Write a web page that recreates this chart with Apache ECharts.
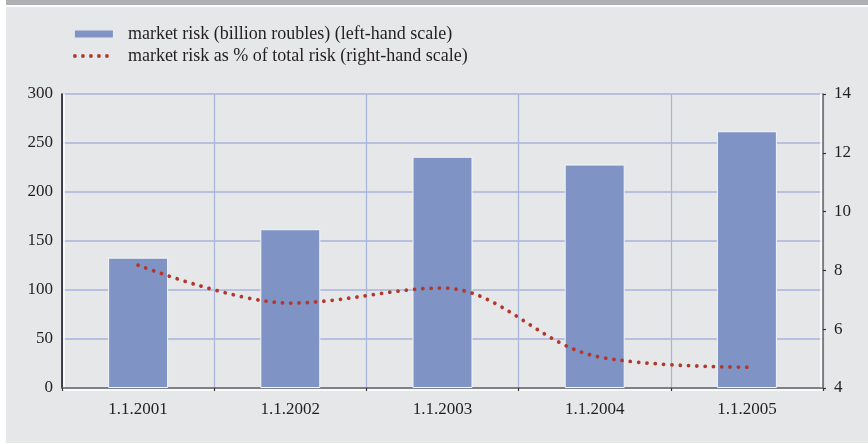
<!DOCTYPE html>
<html><head><meta charset="utf-8">
<script src="https://cdn.jsdelivr.net/npm/echarts@6/dist/echarts.min.js"></script>
<style>html,body{margin:0;padding:0;background:#fff}#c{width:868px;height:444px}</style>
</head><body><div id="c"></div>
<script>
const categories = ['1.1.2001','1.1.2002','1.1.2003','1.1.2004','1.1.2005'];
const marketRisk = [133, 162, 236, 228, 262];
const marketRiskPct = [8.18, 6.89, 7.40, 5.09, 4.71];
const barName = 'market risk (billion roubles) (left-hand scale)';
const lineName = 'market risk as % of total risk (right-hand scale)';

const FONT = '"Liberation Serif", "DejaVu Serif", serif';
const TXT = '#231f20';
const GRIDC = '#a7b4dc';
const RED = '#b3372b';
const chart = echarts.init(document.getElementById('c'), null, {renderer:'canvas'});
chart.setOption({
  animation:false,
  backgroundColor:'#ffffff',
  graphic:[
    {type:'rect', shape:{x:6,y:0,width:862,height:5}, style:{fill:'#b0b1b4'}, z:-10},
    {type:'rect', shape:{x:6,y:7,width:862,height:436}, style:{fill:'#e6e7e8'}, z:-10}
  ],
  legend:{
    orient:'vertical', left:73, top:25, padding:0, itemWidth:38, itemHeight:7, itemGap:4,
    textStyle:{fontFamily:FONT, fontSize:18, lineHeight:18, color:TXT, padding:[0,0,0,10]},
    data:[
      {name:barName, icon:'rect', itemStyle:{color:'#7f93c5', borderWidth:0}},
      {name:lineName, itemStyle:{opacity:0}, lineStyle:{color:RED, width:3.8, type:[0.01, 8], cap:'round'}}
    ]
  },
  grid:{left:62, right:45, top:94, bottom:56, containLabel:false},
  xAxis:{
    type:'category', data:categories, boundaryGap:true,
    axisLine:{lineStyle:{color:'#6b6b6b', width:1.5, shadowColor:'#ffffff', shadowOffsetY:2}},
    axisTick:{show:true, inside:false, length:3, lineStyle:{color:'#333', width:1.2}},
    axisLabel:{fontFamily:FONT, fontSize:17, color:TXT, margin:13},
    splitLine:{show:true, lineStyle:{color:GRIDC, width:1.2}}
  },
  yAxis:[
    {type:'value', min:0, max:300, interval:50, position:'left',
     axisLine:{show:true, lineStyle:{color:'#111', width:1.5, shadowColor:'#ffffff', shadowOffsetX:2}},
     axisTick:{show:false},
     axisLabel:{fontFamily:FONT, fontSize:17, color:TXT, margin:9},
     splitLine:{show:true, lineStyle:{color:GRIDC, width:1.5}}},
    {type:'value', min:4, max:14, interval:2, position:'right',
     axisLine:{show:true, lineStyle:{color:'#6b6b6b', width:1.5, shadowColor:'#ffffff', shadowOffsetX:-2}},
     axisTick:{show:true, length:3, lineStyle:{color:'#333', width:1.2}},
     axisLabel:{fontFamily:FONT, fontSize:17, color:TXT, margin:11},
     splitLine:{show:false}}
  ],
  series:[
    {name:barName, type:'bar', yAxisIndex:0, data:marketRisk, barWidth:60,
     itemStyle:{color:'#7f93c5', borderColor:'#f4f5f8', borderWidth:1}, z:2},
    {name:lineName, type:'line', yAxisIndex:1, data:marketRiskPct, smooth:0.35,
     symbol:'none', z:3,
     lineStyle:{color:RED, width:3.8, type:[0.01, 8.3], cap:'round'},
     itemStyle:{color:RED}}
  ]
});
</script></body></html>
